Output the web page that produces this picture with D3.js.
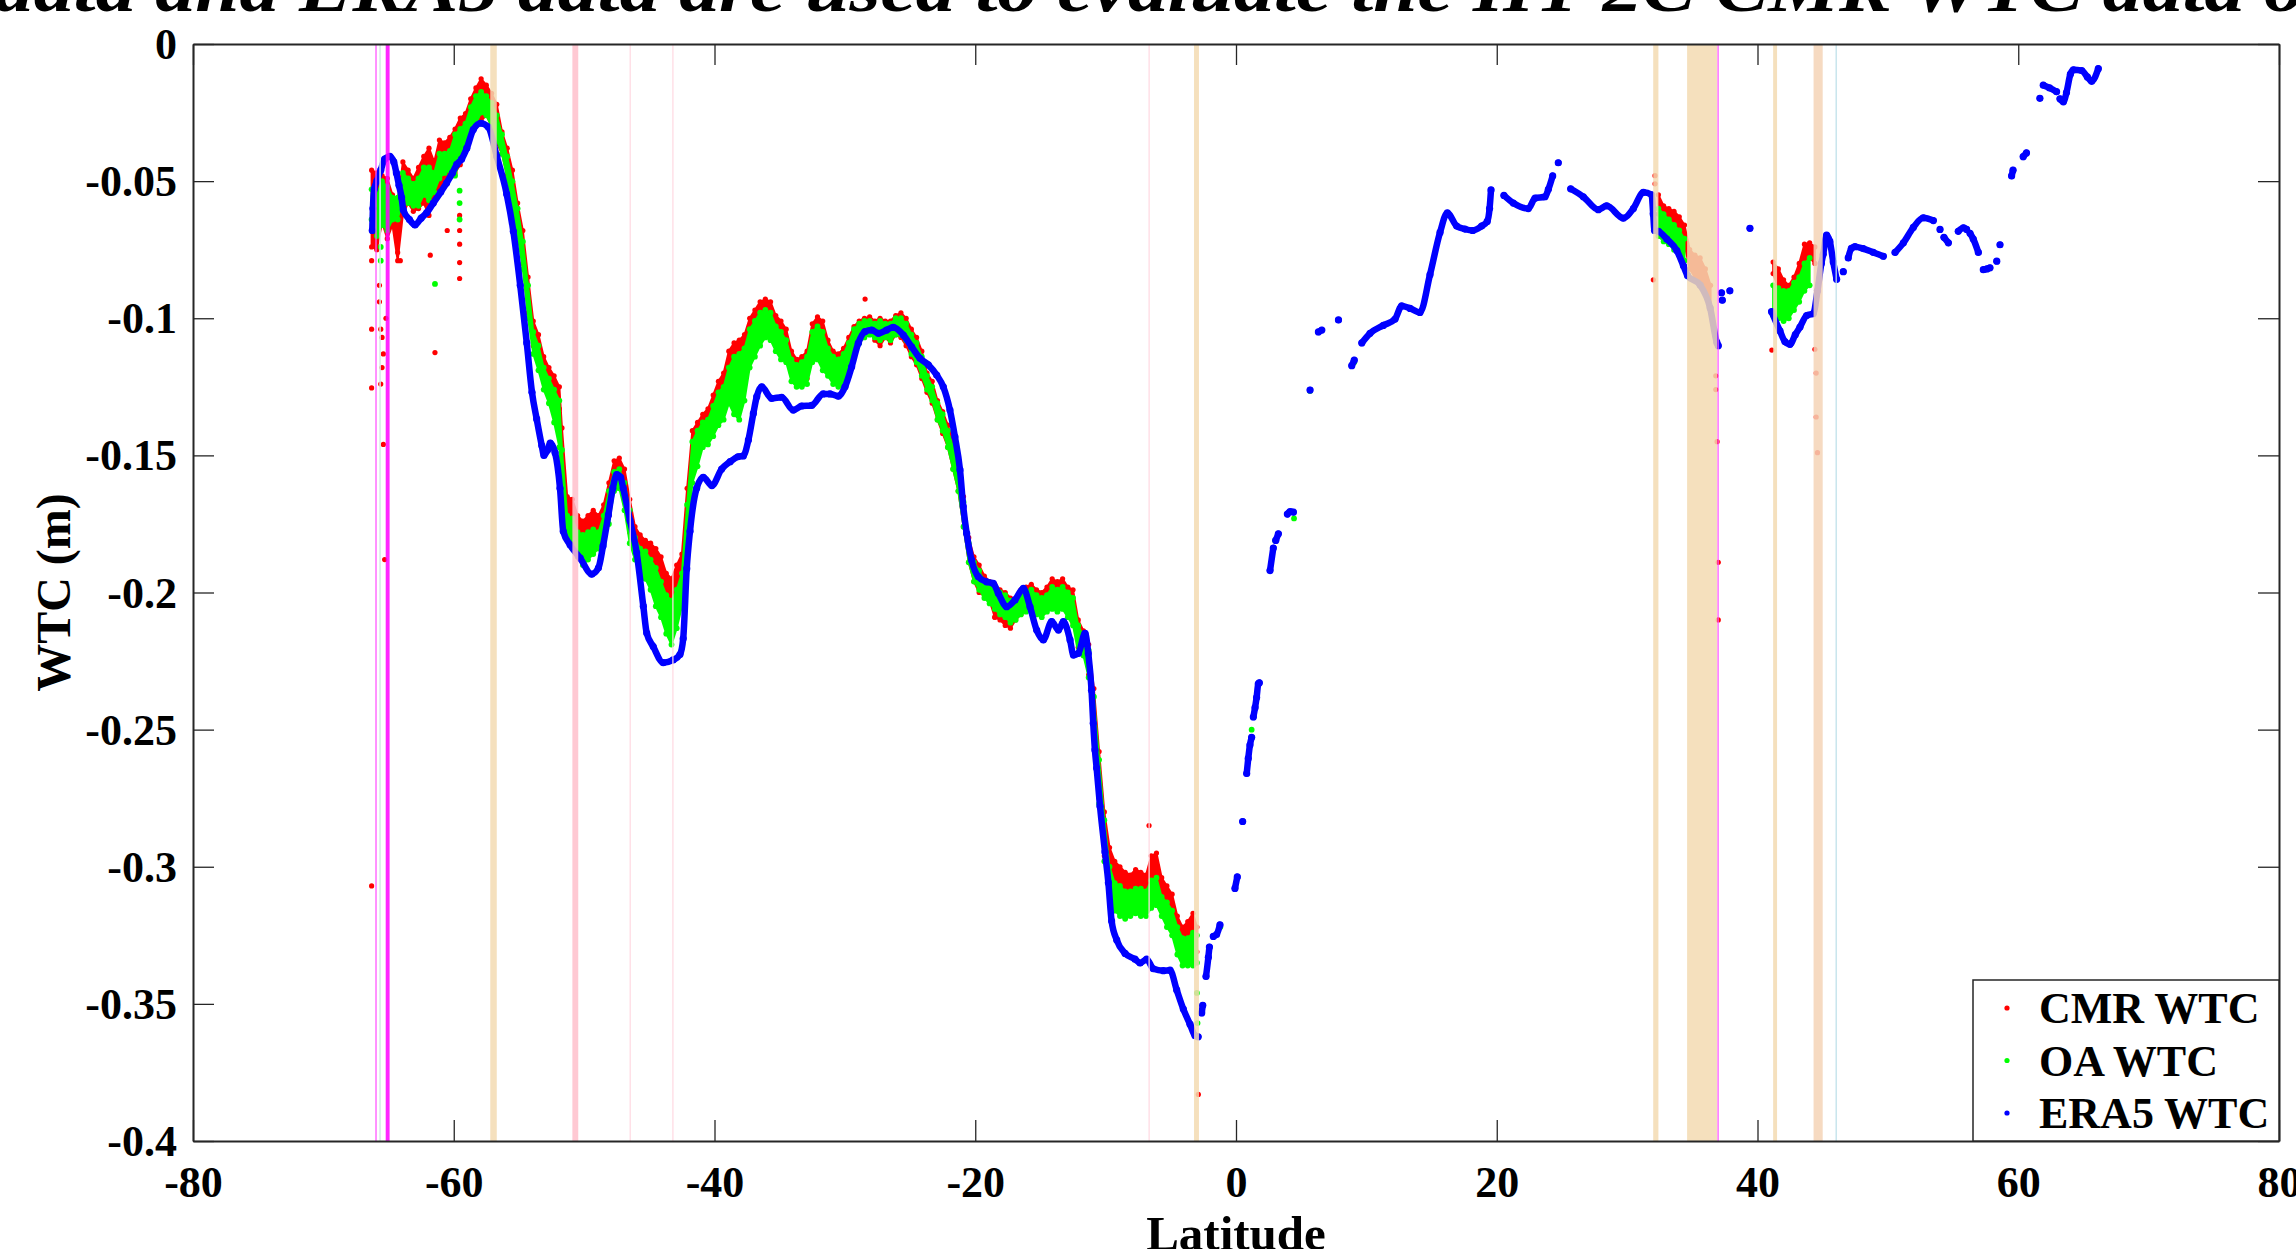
<!DOCTYPE html>
<html>
<head>
<meta charset="UTF-8" />
<title>WTC along track</title>
<script src="https://d3js.org/d3.v7.min.js"></script>
<style>
  body { margin: 0; background: #fff; }
  svg { display: block; font-family: "Liberation Serif", "Times New Roman", serif; }
</style>
</head>
<body>
<svg width="2296" height="1249"></svg>
<script>
// CMR WTC point cloud: [latitude, upper edge, lower edge]
const cmrCloud = [
  [-66.3,-0.046,-0.074],[-65.9,-0.047,-0.075],[-65.5,-0.048,-0.065],[-65.1,-0.049,-0.071],
  [-64.7,-0.055,-0.066],[-64.3,-0.058,-0.079],[-63.9,-0.043,-0.062],[-63.5,-0.046,-0.058],
  [-63.1,-0.049,-0.061],[-62.7,-0.045,-0.060],[-62.3,-0.041,-0.058],[-61.9,-0.038,-0.0625],
  [-61.5,-0.043,-0.055],[-61.1,-0.035,-0.052],[-60.7,-0.036,-0.050],[-60.3,-0.034,-0.048],
  [-59.9,-0.031,-0.047],[-59.5,-0.027,-0.044],[-59.1,-0.0254,-0.038],[-58.7,-0.020,-0.033],
  [-58.3,-0.016,-0.030],[-57.9,-0.0127,-0.028],[-57.5,-0.015,-0.026],[-57.1,-0.018,-0.030],
  [-56.7,-0.022,-0.036],[-56.3,-0.032,-0.040],[-55.9,-0.038,-0.048],[-55.5,-0.046,-0.058],
  [-55.1,-0.058,-0.068],[-54.7,-0.068,-0.080],[-54.3,-0.085,-0.098],[-53.9,-0.101,-0.110],
  [-53.5,-0.106,-0.115],[-53.1,-0.114,-0.120],[-52.7,-0.118,-0.124],[-52.3,-0.121,-0.128],
  [-51.9,-0.125,-0.133],[-51.7,-0.140,-0.160],[-51.3,-0.165,-0.172],[-50.9,-0.166,-0.175],
  [-50.5,-0.172,-0.178],[-50.1,-0.174,-0.180],[-49.7,-0.172,-0.178],[-49.3,-0.170,-0.180],
  [-48.9,-0.172,-0.182],[-48.5,-0.168,-0.178],[-48.1,-0.160,-0.172],[-47.7,-0.152,-0.160],
  [-47.3,-0.151,-0.158],[-46.9,-0.155,-0.165],[-46.5,-0.166,-0.178],[-46.1,-0.176,-0.184],
  [-45.7,-0.179,-0.186],[-45.3,-0.181,-0.188],[-44.9,-0.182,-0.191],[-44.5,-0.184,-0.195],
  [-44.1,-0.187,-0.196],[-43.7,-0.193,-0.200],[-43.3,-0.195,-0.202],[-42.9,-0.190,-0.199],
  [-42.5,-0.186,-0.196],[-42.1,-0.162,-0.178],[-41.7,-0.141,-0.156],[-41.3,-0.138,-0.150],
  [-40.9,-0.135,-0.143],[-40.5,-0.133,-0.141],[-40.1,-0.128,-0.137],[-39.7,-0.123,-0.133],
  [-39.3,-0.120,-0.131],[-38.9,-0.112,-0.124],[-38.5,-0.109,-0.120],[-38.1,-0.108,-0.122],
  [-37.7,-0.106,-0.118],[-37.3,-0.100,-0.112],[-36.9,-0.097,-0.107],[-36.5,-0.094,-0.104],
  [-36.1,-0.093,-0.100],[-35.7,-0.094,-0.102],[-35.3,-0.099,-0.106],[-34.9,-0.101,-0.109],
  [-34.5,-0.104,-0.111],[-34.1,-0.112,-0.120],[-33.7,-0.115,-0.124],[-33.3,-0.114,-0.124],
  [-32.9,-0.112,-0.122],[-32.5,-0.102,-0.110],[-32.1,-0.0995,-0.107],[-31.7,-0.101,-0.110],
  [-31.3,-0.108,-0.116],[-30.9,-0.112,-0.120],[-30.5,-0.113,-0.121],[-30.1,-0.111,-0.125],
  [-29.7,-0.107,-0.120],[-29.3,-0.103,-0.112],[-28.9,-0.101,-0.108],[-28.5,-0.100,-0.106],
  [-28.1,-0.0995,-0.105],[-27.7,-0.101,-0.108],[-27.3,-0.100,-0.110],[-26.9,-0.101,-0.107],
  [-26.5,-0.101,-0.109],[-26.1,-0.099,-0.106],[-25.7,-0.098,-0.107],[-25.3,-0.100,-0.110],
  [-24.9,-0.104,-0.114],[-24.5,-0.107,-0.117],[-24.1,-0.112,-0.122],[-23.7,-0.120,-0.127],
  [-23.3,-0.123,-0.131],[-22.9,-0.130,-0.137],[-22.5,-0.134,-0.142],[-22.1,-0.139,-0.147],
  [-21.7,-0.145,-0.155],[-21.3,-0.152,-0.163],[-20.9,-0.165,-0.176],[-20.5,-0.180,-0.189],
  [-20.1,-0.187,-0.196],[-19.7,-0.190,-0.200],[-19.3,-0.194,-0.201],[-18.9,-0.196,-0.203],
  [-18.5,-0.197,-0.209],[-18.1,-0.199,-0.210],[-17.7,-0.200,-0.212],[-17.3,-0.202,-0.213],
  [-16.9,-0.203,-0.210],[-16.5,-0.199,-0.208],[-16.1,-0.198,-0.206],[-15.7,-0.197,-0.205],
  [-15.3,-0.199,-0.207],[-14.9,-0.200,-0.208],[-14.5,-0.198,-0.205],[-14.1,-0.195,-0.204],
  [-13.7,-0.196,-0.205],[-13.3,-0.195,-0.203],[-12.9,-0.198,-0.207],[-12.5,-0.199,-0.211],
  [-12.1,-0.210,-0.220],[-11.7,-0.214,-0.222],[-11.3,-0.219,-0.230],[-10.9,-0.235,-0.250],
  [-10.5,-0.258,-0.275],[-10.1,-0.280,-0.296],[-9.7,-0.293,-0.302],[-9.3,-0.298,-0.306],
  [-8.9,-0.300,-0.308],[-8.5,-0.302,-0.310],[-8.1,-0.303,-0.311],[-7.7,-0.301,-0.309],
  [-7.3,-0.302,-0.311],[-6.9,-0.303,-0.310],[-6.5,-0.296,-0.306],[-6.1,-0.295,-0.305],
  [-5.7,-0.304,-0.312],[-5.3,-0.307,-0.316],[-4.9,-0.310,-0.320],[-4.5,-0.318,-0.328],
  [-4.1,-0.322,-0.334],[-3.7,-0.320,-0.331],[-3.3,-0.317,-0.330],[-3.0,-0.322,-0.331],
  null,
  [32.4,-0.055,-0.062],[32.8,-0.059,-0.066],[33.2,-0.060,-0.068],[33.6,-0.061,-0.070],
  [34.0,-0.063,-0.071],[34.4,-0.066,-0.073],[34.8,-0.075,-0.082],[35.2,-0.077,-0.085],
  [35.6,-0.078,-0.087],[36.0,-0.082,-0.090],[36.4,-0.088,-0.096],
  null,
  [41.2,-0.0795,-0.0837],[41.6,-0.082,-0.089],[42.0,-0.086,-0.093],[42.4,-0.088,-0.095],
  [42.8,-0.085,-0.091],[43.2,-0.080,-0.088],[43.6,-0.073,-0.080],[44.0,-0.0725,-0.078],
  [44.4,-0.074,-0.080]
];

// OA WTC point cloud: [latitude, upper edge, lower edge]
const oaCloud = [
  [-66.3,-0.053,-0.064],[-65.9,-0.055,-0.070],[-65.5,-0.050,-0.066],[-65.1,-0.052,-0.068],
  [-64.7,-0.056,-0.064],[-64.3,-0.056,-0.064],[-63.9,-0.047,-0.056],[-63.5,-0.049,-0.058],
  [-63.1,-0.051,-0.059],[-62.7,-0.049,-0.059],[-62.3,-0.045,-0.055],[-61.9,-0.045,-0.057],
  [-61.5,-0.047,-0.054],[-61.1,-0.040,-0.049],[-60.7,-0.040,-0.047],[-60.3,-0.039,-0.046],
  [-59.9,-0.033,-0.048],[-59.5,-0.031,-0.042],[-59.1,-0.029,-0.036],[-58.7,-0.023,-0.031],
  [-58.3,-0.019,-0.029],[-57.9,-0.0175,-0.025],[-57.5,-0.019,-0.026],[-57.1,-0.0215,-0.030],
  [-56.7,-0.026,-0.035],[-56.3,-0.033,-0.040],[-55.9,-0.041,-0.049],[-55.5,-0.050,-0.060],
  [-55.1,-0.060,-0.070],[-54.7,-0.072,-0.082],[-54.3,-0.088,-0.100],[-53.9,-0.105,-0.113],
  [-53.5,-0.110,-0.119],[-53.1,-0.118,-0.126],[-52.7,-0.122,-0.131],[-52.3,-0.126,-0.138],
  [-51.9,-0.130,-0.147],[-51.7,-0.148,-0.162],[-51.3,-0.172,-0.180],[-50.9,-0.173,-0.184],
  [-50.5,-0.178,-0.187],[-50.1,-0.179,-0.190],[-49.7,-0.178,-0.188],[-49.3,-0.177,-0.186],
  [-48.9,-0.178,-0.184],[-48.5,-0.172,-0.182],[-48.1,-0.163,-0.175],[-47.7,-0.156,-0.163],
  [-47.3,-0.155,-0.162],[-46.9,-0.160,-0.170],[-46.5,-0.170,-0.182],[-46.1,-0.180,-0.188],
  [-45.7,-0.184,-0.192],[-45.3,-0.185,-0.195],[-44.9,-0.188,-0.199],[-44.5,-0.191,-0.205],
  [-44.1,-0.196,-0.209],[-43.7,-0.201,-0.215],[-43.3,-0.203,-0.219],[-42.9,-0.199,-0.213],
  [-42.5,-0.193,-0.205],[-42.1,-0.168,-0.185],[-41.7,-0.145,-0.160],[-41.3,-0.141,-0.154],
  [-40.9,-0.138,-0.147],[-40.5,-0.137,-0.146],[-40.1,-0.132,-0.143],[-39.7,-0.127,-0.139],
  [-39.3,-0.125,-0.137],[-38.9,-0.118,-0.131],[-38.5,-0.114,-0.135],[-38.1,-0.113,-0.137],
  [-37.7,-0.111,-0.130],[-37.3,-0.104,-0.118],[-36.9,-0.101,-0.114],[-36.5,-0.098,-0.110],
  [-36.1,-0.097,-0.107],[-35.7,-0.098,-0.108],[-35.3,-0.103,-0.112],[-34.9,-0.105,-0.115],
  [-34.5,-0.108,-0.116],[-34.1,-0.115,-0.123],[-33.7,-0.117,-0.125],[-33.3,-0.116,-0.125],
  [-32.9,-0.114,-0.124],[-32.5,-0.105,-0.116],[-32.1,-0.103,-0.115],[-31.7,-0.105,-0.119],
  [-31.3,-0.111,-0.121],[-30.9,-0.114,-0.124],[-30.5,-0.115,-0.125],[-30.1,-0.113,-0.125],
  [-29.7,-0.109,-0.121],[-29.3,-0.104,-0.112],[-28.9,-0.102,-0.109],[-28.5,-0.101,-0.107],
  [-28.1,-0.101,-0.106],[-27.7,-0.102,-0.107],[-27.3,-0.101,-0.108],[-26.9,-0.102,-0.107],
  [-26.5,-0.102,-0.108],[-26.1,-0.100,-0.106],[-25.7,-0.100,-0.106],[-25.3,-0.102,-0.108],
  [-24.9,-0.106,-0.113],[-24.5,-0.109,-0.116],[-24.1,-0.114,-0.121],[-23.7,-0.121,-0.126],
  [-23.3,-0.125,-0.130],[-22.9,-0.131,-0.137],[-22.5,-0.135,-0.141],[-22.1,-0.141,-0.147],
  [-21.7,-0.147,-0.155],[-21.3,-0.155,-0.163],[-20.9,-0.167,-0.176],[-20.5,-0.182,-0.189],
  [-20.1,-0.189,-0.196],[-19.7,-0.192,-0.199],[-19.3,-0.196,-0.202],[-18.9,-0.198,-0.204],
  [-18.5,-0.199,-0.206],[-18.1,-0.200,-0.208],[-17.7,-0.201,-0.209],[-17.3,-0.203,-0.211],
  [-16.9,-0.204,-0.210],[-16.5,-0.201,-0.208],[-16.1,-0.200,-0.207],[-15.7,-0.199,-0.206],
  [-15.3,-0.201,-0.208],[-14.9,-0.202,-0.209],[-14.5,-0.201,-0.207],[-14.1,-0.198,-0.206],
  [-13.7,-0.199,-0.207],[-13.3,-0.198,-0.206],[-12.9,-0.200,-0.209],[-12.5,-0.202,-0.212],
  [-12.1,-0.212,-0.222],[-11.7,-0.216,-0.223],[-11.3,-0.221,-0.231],[-10.9,-0.238,-0.252],
  [-10.5,-0.261,-0.277],[-10.1,-0.283,-0.298],[-9.7,-0.300,-0.308],[-9.3,-0.306,-0.316],
  [-8.9,-0.307,-0.318],[-8.5,-0.309,-0.319],[-8.1,-0.309,-0.318],[-7.7,-0.308,-0.317],
  [-7.3,-0.308,-0.318],[-6.9,-0.309,-0.318],[-6.5,-0.305,-0.315],[-6.1,-0.304,-0.314],
  [-5.7,-0.311,-0.318],[-5.3,-0.313,-0.322],[-4.9,-0.316,-0.325],[-4.5,-0.322,-0.332],
  [-4.1,-0.326,-0.336],[-3.7,-0.326,-0.336],[-3.3,-0.324,-0.336],[-3.0,-0.325,-0.335],
  null,
  [32.4,-0.060,-0.070],[32.8,-0.062,-0.072],[33.2,-0.064,-0.073],[33.6,-0.066,-0.075],
  [34.0,-0.068,-0.077],[34.4,-0.071,-0.079],
  null,
  [41.2,-0.088,-0.099],[41.6,-0.089,-0.100],[42.0,-0.090,-0.101],[42.4,-0.090,-0.100],
  [42.8,-0.087,-0.097],[43.2,-0.085,-0.094],[43.6,-0.080,-0.090],[44.0,-0.078,-0.088]
];

// single CMR / OA points away from the clouds: [latitude, WTC]
const cmrStray = [
  [-66.3,-0.079],[-66.3,-0.104],[-66.3,-0.1254],[-66.3,-0.307],[-65.7,-0.088],[-65.7,-0.094],
  [-65.6,-0.104],[-65.5,-0.107],[-65.4,-0.113],[-65.5,-0.118],[-65.6,-0.124],[-65.4,-0.146],
  [-65.3,-0.188],[-65.2,-0.100],[-64.3,-0.076],[-64.1,-0.079],[-61.8,-0.077],[-61.44,-0.1125],
  [-60.5,-0.068],[-59.55,-0.0625],[-59.55,-0.068],[-59.55,-0.073],[-59.55,-0.0797],
  [-59.55,-0.0855],[-28.45,-0.093],[-18.5,-0.209],[-6.67,-0.285],[-2.89,-0.383],
  [32.01,-0.086],[32.14,-0.048],[32.14,-0.051],[36.8,-0.121],[36.8,-0.126],[36.9,-0.145],
  [36.99,-0.189],[36.99,-0.210],[41.1,-0.1116],[44.4,-0.1113],[44.5,-0.120],[44.5,-0.136],
  [44.6,-0.149]
];
const oaStray = [
  [-65.6,-0.074],[-65.6,-0.079],[-61.44,-0.0875],[-59.55,-0.0535],[-59.55,-0.058],
  [-59.55,-0.064],[-3.0,-0.346],[-2.95,-0.357],[-1.2,-0.322],[0.51,-0.2835],[1.0,-0.258],
  [1.2,-0.250],[3.0,-0.181],[4.45,-0.173],[5.68,-0.1265],[7.86,-0.1006],[9.07,-0.116]
];

// ERA5 WTC along track: [latitude, WTC], null marks a gap
const era5 = [
  [-66.25,-0.068],[-66.2,-0.060],[-66.1,-0.053],[-65.9,-0.050],[-65.6,-0.046],[-65.3,-0.042],
  [-64.9,-0.041],[-64.6,-0.043],[-64.4,-0.047],[-64.2,-0.0515],[-64.0,-0.056],[-63.87,-0.0605],
  [-63.4,-0.064],[-62.97,-0.066],[-62.5,-0.0635],[-62.07,-0.0615],[-61.57,-0.058],[-61.0,-0.054],
  [-60.55,-0.0507],[-60.1,-0.047],[-59.77,-0.0439],[-59.4,-0.042],[-59.0,-0.038],[-58.5,-0.0312],
  [-57.93,-0.0289],[-57.35,-0.0303],[-56.7,-0.041],[-55.94,-0.0547],[-55.43,-0.0683],
  [-54.9,-0.088],[-54.4,-0.109],[-54.0,-0.127],[-53.64,-0.1367],[-53.25,-0.1464],[-53.08,-0.150],
  [-52.8,-0.148],[-52.6,-0.1455],[-52.23,-0.149],[-51.85,-0.162],[-51.6,-0.1777],[-51.08,-0.1826],
  [-50.3,-0.1875],[-49.42,-0.1933],[-48.9,-0.191],[-48.55,-0.183],[-48.14,-0.1717],[-47.8,-0.162],
  [-47.5,-0.157],[-47.2,-0.158],[-47.0,-0.162],[-46.48,-0.1738],[-45.97,-0.1855],[-45.46,-0.205],
  [-45.2,-0.2148],[-44.7,-0.2197],[-43.93,-0.2256],[-43.17,-0.2246],[-42.65,-0.2226],
  [-42.4,-0.2168],[-42.13,-0.1913],[-41.88,-0.1777],[-41.37,-0.162],[-40.86,-0.158],[-40.2,-0.161],
  [-39.45,-0.155],[-38.8,-0.1523],[-38.2,-0.1505],[-37.79,-0.1502],[-37.4,-0.1444],[-37.02,-0.1347],
  [-36.76,-0.1286],[-36.38,-0.125],[-35.62,-0.1292],[-34.85,-0.1288],[-33.96,-0.1335],
  [-33.32,-0.132],[-32.55,-0.1318],[-31.66,-0.1276],[-31.14,-0.1276],[-30.5,-0.1284],
  [-29.99,-0.125],[-29.48,-0.1177],[-28.97,-0.1091],[-28.46,-0.1049],[-27.94,-0.1043],
  [-27.43,-0.1055],[-26.8,-0.1043],[-26.29,-0.1033],[-25.52,-0.1061],[-24.88,-0.1104],
  [-24.24,-0.1146],[-23.6,-0.117],[-22.96,-0.1207],[-22.45,-0.125],[-21.94,-0.1335],
  [-21.56,-0.1432],[-21.17,-0.1553],[-20.92,-0.1687],[-20.66,-0.1784],[-20.28,-0.1882],
  [-19.77,-0.1942],[-19.13,-0.1961],[-18.62,-0.1967],[-18.23,-0.2003],[-17.59,-0.2052],
  [-16.95,-0.2027],[-16.31,-0.1985],[-15.8,-0.2052],[-15.29,-0.2137],[-14.78,-0.2173],
  [-14.14,-0.2106],[-13.62,-0.2137],[-13.24,-0.2106],[-12.73,-0.2173],[-12.47,-0.2228],
  [-12.09,-0.2222],[-11.58,-0.2149],[-11.33,-0.2222],[-11.08,-0.2356],[-10.95,-0.2477],
  [-10.82,-0.2574],[-10.69,-0.264],[-10.43,-0.2779],[-10.05,-0.2946],[-9.79,-0.3058],
  [-9.54,-0.3198],[-9.15,-0.3267],[-8.51,-0.3316],[-7.75,-0.3337],[-7.36,-0.3351],
  [-6.85,-0.3337],[-6.34,-0.3372],[-5.57,-0.3379],[-5.06,-0.3377],[-4.55,-0.3449],
  [-4.04,-0.3519],[-3.53,-0.3574],[-3.14,-0.3616],[-2.9,-0.362],
  null,[-2.63,-0.3533],[-2.55,-0.3505],null,[-2.3,-0.340],[-2.12,-0.333],[-2.04,-0.3293],
  null,[-1.74,-0.3254],[-1.49,-0.3247],[-1.23,-0.3212],null,[-0.08,-0.3079],[0.1,-0.3037],
  null,[0.51,-0.2835],null,[0.82,-0.266],[0.94,-0.2605],[1.07,-0.2556],[1.2,-0.2528],
  null,[1.33,-0.2454],[1.46,-0.242],[1.58,-0.2383],[1.71,-0.2333],[1.79,-0.2329],
  null,[2.61,-0.192],[2.86,-0.1838],null,[3.05,-0.181],[3.25,-0.1786],null,[3.94,-0.1714],
  [4.15,-0.1705],[4.4,-0.1707],null,[5.68,-0.1262],null,[6.32,-0.105],[6.58,-0.1043],
  null,[7.86,-0.1006],null,[8.88,-0.1173],[9.07,-0.1153],null,[9.65,-0.109],[10.28,-0.1055],
  [11.3,-0.1026],[12.2,-0.1003],[12.71,-0.0955],[13.35,-0.0964],[14.11,-0.0979],[14.88,-0.0841],
  [15.65,-0.0687],[16.21,-0.0616],[16.93,-0.0664],[17.56,-0.0675],[18.15,-0.068],[18.84,-0.0664],
  [19.27,-0.0647],[19.45,-0.060],[19.56,-0.0532],
  null,[20.55,-0.0552],[21.27,-0.058],[22.42,-0.060],[22.94,-0.0562],[23.7,-0.0557],
  [23.96,-0.053],[24.29,-0.0481],null,[24.72,-0.0433],
  null,[25.67,-0.0528],[26.64,-0.0557],[27.79,-0.0604],[28.43,-0.059],[29.71,-0.0635],
  [30.48,-0.060],[31.25,-0.0541],[31.88,-0.055],[32.0,-0.062],[32.1,-0.068],[32.4,-0.0683],
  [33.04,-0.0711],[33.81,-0.0753],[34.32,-0.0809],[34.63,-0.0844],[35.6,-0.0879],
  [36.37,-0.0963],[36.88,-0.1088],[36.99,-0.110],
  null,[37.24,-0.0907],null,[37.3,-0.0934],null,[37.88,-0.090],null,[39.42,-0.0672],
  null,[41.08,-0.0976],[41.72,-0.1046],[42.1,-0.1085],[42.49,-0.1095],[42.9,-0.106],
  [43.26,-0.1032],[43.77,-0.099],[44.28,-0.0983],[44.6,-0.090],[44.9,-0.080],[45.04,-0.0767],
  [45.3,-0.0697],[45.55,-0.072],[45.81,-0.0795],[46.07,-0.0858],
  null,[46.58,-0.083],null,[46.96,-0.078],[47.2,-0.0745],[47.48,-0.0739],[48.11,-0.0746],
  [48.88,-0.076],[49.65,-0.0774],
  null,[50.55,-0.076],[51.19,-0.0725],[51.95,-0.0669],[52.72,-0.0634],[53.49,-0.0644],
  null,[54.0,-0.0676],null,[54.3,-0.0705],[54.64,-0.0725],null,[55.4,-0.0683],[55.8,-0.067],
  [56.04,-0.0676],null,[56.3,-0.069],[56.55,-0.0711],[56.94,-0.076],null,[57.32,-0.0823],
  [57.6,-0.082],[57.83,-0.0816],null,[58.35,-0.0792],null,[58.6,-0.0732],
  null,[59.49,-0.0481],[59.6,-0.046],null,[60.38,-0.0411],[60.63,-0.0397],
  null,[61.66,-0.0198],null,[61.92,-0.015],[62.4,-0.016],[62.94,-0.0174],null,[63.2,-0.020],
  [63.46,-0.0211],[63.7,-0.0177],[64.0,-0.011],[64.23,-0.0094],[64.87,-0.0097],[65.3,-0.012],
  [65.63,-0.0136],[66.14,-0.009]
];

// flagged latitude strips drawn over the data: [from, to, flag]
const strips = [
  [-66.02,-65.93,"f1"],[-65.72,-65.58,"f6"],[-65.22,-64.92,"f2"],[-57.2,-56.7,"f3"],
  [-50.9,-50.45,"f4"],[-46.52,-46.42,"f5"],[-43.25,-43.15,"f5"],[-6.72,-6.62,"f5"],
  [-3.22,-2.84,"f3"],[32.0,32.4,"f3"],[34.6,36.9,"f3"],[36.92,37.02,"f1"],
  [41.2,41.5,"f3"],[44.3,45.0,"f8"],[45.98,46.08,"f7"]
];

const xTicks = [-80, -60, -40, -20, 0, 20, 40, 60, 80];
const yTicks = [0, -0.05, -0.1, -0.15, -0.2, -0.25, -0.3, -0.35, -0.4];
const seriesNames = ["CMR WTC", "OA WTC", "ERA5 WTC"];
const caption = "data and ERA5 data are used to evaluate the HY-2C CMR WTC data o";

const svg = d3.select("svg");
const W = 2296, H = 1249;
const plot = { left: 193, right: 2279, top: 44, bottom: 1141 };
const axisColor = "#262626";
const colors = { cmr: "#ff0000", oa: "#00ff00", era5: "#0000ff" };
const stripColor = d3.scaleOrdinal()
  .domain(["f1", "f2", "f3", "f4", "f5", "f6", "f7", "f8"])
  .range(["#ff55ff", "#ff00ff", "#f3dbb2", "#ffbfcb", "#ffdbe3", "#d5ebe6", "#bfe0ea", "#f5d3b6"]);

svg.append("rect").attr("width", W).attr("height", H).attr("fill", "#fff");

const x = d3.scaleLinear().domain([-80, 80]).range([plot.left, plot.right]);
const y = d3.scaleLinear().domain([-0.4, 0]).range([plot.bottom, plot.top]);

// caption text from the page above, cut by the top edge
svg.append("text")
  .attr("x", -6).attr("y", 11)
  .attr("textLength", 2310).attr("lengthAdjust", "spacingAndGlyphs")
  .attr("font-size", 68).attr("font-weight", "bold").attr("font-style", "italic")
  .attr("fill", "#000")
  .text(caption);

svg.append("clipPath").attr("id", "plotclip")
  .append("rect")
  .attr("x", plot.left).attr("y", plot.top)
  .attr("width", plot.right - plot.left).attr("height", plot.bottom - plot.top);

const g = svg.append("g").attr("clip-path", "url(#plotclip)");

// clouds: filled between upper and lower edge, dots on the edges
function drawCloud(data, stray, color, r) {
  const area = d3.area()
    .defined(d => d !== null)
    .x(d => x(d[0])).y0(d => y(d[2])).y1(d => y(d[1]));
  g.append("path").attr("d", area(data))
    .attr("fill", color).attr("stroke", color).attr("stroke-width", 2)
    .attr("stroke-linejoin", "round");
  const pts = data.filter(d => d !== null);
  const edge = pts.map(d => [d[0], d[1]]).concat(pts.map(d => [d[0], d[2]]), stray);
  g.append("g").selectAll("circle")
    .data(edge).join("circle")
    .attr("cx", d => x(d[0])).attr("cy", d => y(d[1])).attr("r", r)
    .attr("fill", color);
}
drawCloud(cmrCloud, cmrStray, colors.cmr, 2.6);
drawCloud(oaCloud, oaStray, colors.oa, 2.9);

// ERA5
const line = d3.line()
  .defined(d => d !== null)
  .x(d => x(d[0])).y(d => y(d[1]))
  .curve(d3.curveMonotoneX);
g.append("path")
  .attr("d", line(era5))
  .attr("fill", "none").attr("stroke", colors.era5)
  .attr("stroke-width", 6.5).attr("stroke-linejoin", "round").attr("stroke-linecap", "round");
g.append("g").selectAll("circle")
  .data(era5.filter(d => d !== null)).join("circle")
  .attr("cx", d => x(d[0])).attr("cy", d => y(d[1])).attr("r", 3.6)
  .attr("fill", colors.era5);

// flag strips on top
g.append("g").selectAll("rect")
  .data(strips).join("rect")
  .attr("x", d => x(d[0]))
  .attr("width", d => Math.max(1.5, x(d[1]) - x(d[0])))
  .attr("y", plot.top).attr("height", plot.bottom - plot.top)
  .attr("fill", d => stripColor(d[2]))
  .attr("opacity", 0.85);

// axes
const tickLen = 21;
const fmt = d => String(d);

const xAxis = svg.append("g")
  .attr("transform", `translate(0,${plot.bottom})`)
  .call(d3.axisBottom(x).tickValues(xTicks).tickFormat(fmt).tickSizeInner(-tickLen).tickSizeOuter(0));
xAxis.selectAll("text").attr("y", 56).attr("dy", 0);

svg.append("g")
  .attr("transform", `translate(0,${plot.top})`)
  .call(d3.axisTop(x).tickValues(xTicks).tickFormat("").tickSizeInner(-tickLen).tickSizeOuter(0));

const yAxis = svg.append("g")
  .attr("transform", `translate(${plot.left},0)`)
  .call(d3.axisLeft(y).tickValues(yTicks).tickFormat(fmt).tickSizeInner(-tickLen).tickSizeOuter(0));
yAxis.selectAll("text").attr("x", -16).attr("dy", "0.33em");

svg.append("g")
  .attr("transform", `translate(${plot.right},0)`)
  .call(d3.axisRight(y).tickValues(yTicks).tickFormat("").tickSizeInner(-tickLen).tickSizeOuter(0));

svg.selectAll(".domain").attr("stroke", axisColor).attr("stroke-width", 2);
svg.selectAll(".tick line").attr("stroke", axisColor).attr("stroke-width", 1.3);
svg.selectAll(".tick text")
  .attr("font-family", "'Liberation Serif', 'Times New Roman', serif")
  .attr("font-size", 44).attr("font-weight", "bold").attr("fill", "#000");

// axis titles
svg.append("text")
  .attr("x", (plot.left + plot.right) / 2).attr("y", 1250)
  .attr("text-anchor", "middle")
  .attr("font-size", 49).attr("font-weight", "bold")
  .text("Latitude");

svg.append("text")
  .attr("transform", `translate(70,${(plot.top + plot.bottom) / 2}) rotate(-90)`)
  .attr("text-anchor", "middle")
  .attr("font-size", 48).attr("font-weight", "bold")
  .text("WTC (m)");

// legend
const lg = svg.append("g").attr("transform", "translate(1973,980)");
lg.append("rect")
  .attr("width", plot.right - 1973).attr("height", plot.bottom - 980)
  .attr("fill", "#fff").attr("stroke", axisColor).attr("stroke-width", 1.5);
const legendColors = [colors.cmr, colors.oa, colors.era5];
seriesNames.forEach((name, i) => {
  const cy = 28 + i * 52.5;
  lg.append("circle").attr("cx", 34).attr("cy", cy).attr("r", 2.6).attr("fill", legendColors[i]);
  lg.append("text")
    .attr("x", 66).attr("y", cy + 15)
    .attr("font-size", 44).attr("font-weight", "bold")
    .text(name);
});
</script>
</body>
</html>
